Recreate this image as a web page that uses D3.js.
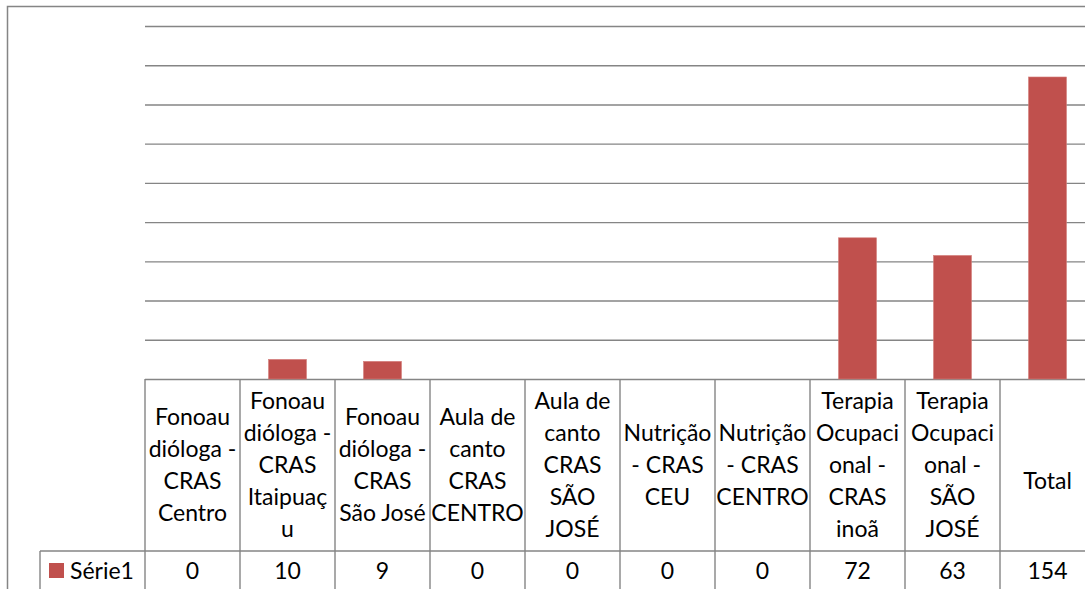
<!DOCTYPE html>
<html>
<head>
<meta charset="utf-8">
<script src="https://cdn.jsdelivr.net/npm/d3@7"></script>
<style>
  body { margin: 0; background: #fff; }
  svg { display: block; font-family: Lato, "Open Sans", sans-serif; }
</style>
</head>
<body>
<div id="chart"></div>
<script>
// data
const categories = [
    "Fonoaudióloga - CRAS Centro",
    "Fonoaudióloga - CRAS Itaipuaçu",
    "Fonoaudióloga - CRAS São José",
    "Aula de canto CRAS CENTRO",
    "Aula de canto CRAS SÃO JOSÉ",
    "Nutrição - CRAS CEU",
    "Nutrição - CRAS CENTRO",
    "Terapia Ocupacional - CRAS inoã",
    "Terapia Ocupacional - SÃO JOSÉ",
    "Total"
];
// wrapped header text, as shown in the data table
const headerLines = [
    ["Fonoau", "dióloga -", "CRAS", "Centro"],
    ["Fonoau", "dióloga -", "CRAS", "Itaipuaç", "u"],
    ["Fonoau", "dióloga -", "CRAS", "São José"],
    ["Aula de", "canto", "CRAS", "CENTRO"],
    ["Aula de", "canto", "CRAS", "SÃO", "JOSÉ"],
    ["Nutrição", "- CRAS", "CEU"],
    ["Nutrição", "- CRAS", "CENTRO"],
    ["Terapia", "Ocupaci", "onal -", "CRAS", "inoã"],
    ["Terapia", "Ocupaci", "onal -", "SÃO", "JOSÉ"],
    ["", "Total"]
];
const values = [0, 10, 9, 0, 0, 0, 0, 72, 63, 154];
const seriesName = "Série1";
const yTicks = [0, 20, 40, 60, 80, 100, 120, 140, 160, 180];

/* Dimensions */
const width = 1085;
const height = 589;
const plot = { left: 145, right: 1095, top: 26, bottom: 379 };
const tableRowY = 551;   // line between header row and values row
const legendLeft = 40;
const lineH = 32;
const fontSize = 23;
const gray = "#858585";
const barColor = "#C0504D";

const svg = d3.select("#chart")
    .append("svg")
    .attr("width", width)
    .attr("height", height);

// outer chart border
svg.append("rect")
    .attr("x", 7.5).attr("y", 6.5)
    .attr("width", width + 20).attr("height", height + 20)
    .attr("fill", "none")
    .attr("stroke", gray)
    .attr("stroke-width", 1.5);

const xScale = d3.scaleBand()
    .domain(categories)
    .range([plot.left, plot.right])
    .paddingInner(0.6)
    .paddingOuter(0.3);

// table columns share the domain, no padding
const colScale = d3.scaleBand()
    .domain(categories)
    .range([plot.left, plot.right]);

const yScale = d3.scaleLinear()
    .domain([0, 180])
    .range([plot.bottom, plot.top]);

// gridlines
const grid = svg.append("g")
    .attr("transform", `translate(${plot.left},0)`)
    .call(d3.axisLeft(yScale)
        .tickValues(yTicks)
        .tickSize(-(plot.right - plot.left))
        .tickFormat(""));
grid.select(".domain").remove();
grid.selectAll(".tick line")
    .attr("stroke", gray)
    .attr("stroke-width", 1.4);

// bars
svg.append("g")
    .selectAll("rect")
    .data(values)
    .join("rect")
    .attr("x", (d, i) => xScale(categories[i]))
    .attr("y", d => yScale(d))
    .attr("width", xScale.bandwidth())
    .attr("height", d => yScale(0) - yScale(d))
    .attr("fill", barColor)
    .attr("stroke", "#d47f7c")
    .attr("stroke-width", 0.6);

/* Data table */
const table = svg.append("g");

// column dividers
const edges = categories.map(c => colScale(c)).concat([plot.right]);
table.selectAll("line.col")
    .data(edges)
    .join("line")
    .attr("class", "col")
    .attr("x1", d => d).attr("x2", d => d)
    .attr("y1", plot.bottom).attr("y2", height + 10)
    .attr("stroke", gray)
    .attr("stroke-width", 1.4);

// horizontal row line + legend cell border
table.append("line")
    .attr("x1", legendLeft).attr("x2", plot.right)
    .attr("y1", tableRowY).attr("y2", tableRowY)
    .attr("stroke", gray).attr("stroke-width", 1.4);
table.append("line")
    .attr("x1", legendLeft).attr("x2", legendLeft)
    .attr("y1", tableRowY).attr("y2", height + 10)
    .attr("stroke", gray).attr("stroke-width", 1.4);

// header labels
const midBaseline = 473;
categories.forEach((c, i) => {
    const lines = headerLines[i];
    const cx = colScale(c) + colScale.bandwidth() / 2;
    table.append("text")
        .attr("text-anchor", "middle")
        .attr("font-size", fontSize)
        .attr("fill", "#000")
        .selectAll("tspan")
        .data(lines)
        .join("tspan")
        .attr("x", cx)
        .attr("y", (d, j) => midBaseline + (j - (lines.length - 1) / 2) * lineH)
        .text(d => d);
});

// values row
table.selectAll("text.val")
    .data(values)
    .join("text")
    .attr("class", "val")
    .attr("x", (d, i) => colScale(categories[i]) + colScale.bandwidth() / 2)
    .attr("y", 579)
    .attr("text-anchor", "middle")
    .attr("font-size", fontSize)
    .attr("fill", "#000")
    .text(d => d);

// legend key
table.append("rect")
    .attr("x", 49).attr("y", 563)
    .attr("width", 15).attr("height", 15)
    .attr("fill", barColor);
table.append("text")
    .attr("x", 70).attr("y", 579)
    .attr("font-size", fontSize)
    .attr("fill", "#000")
    .text(seriesName);
</script>
</body>
</html>
